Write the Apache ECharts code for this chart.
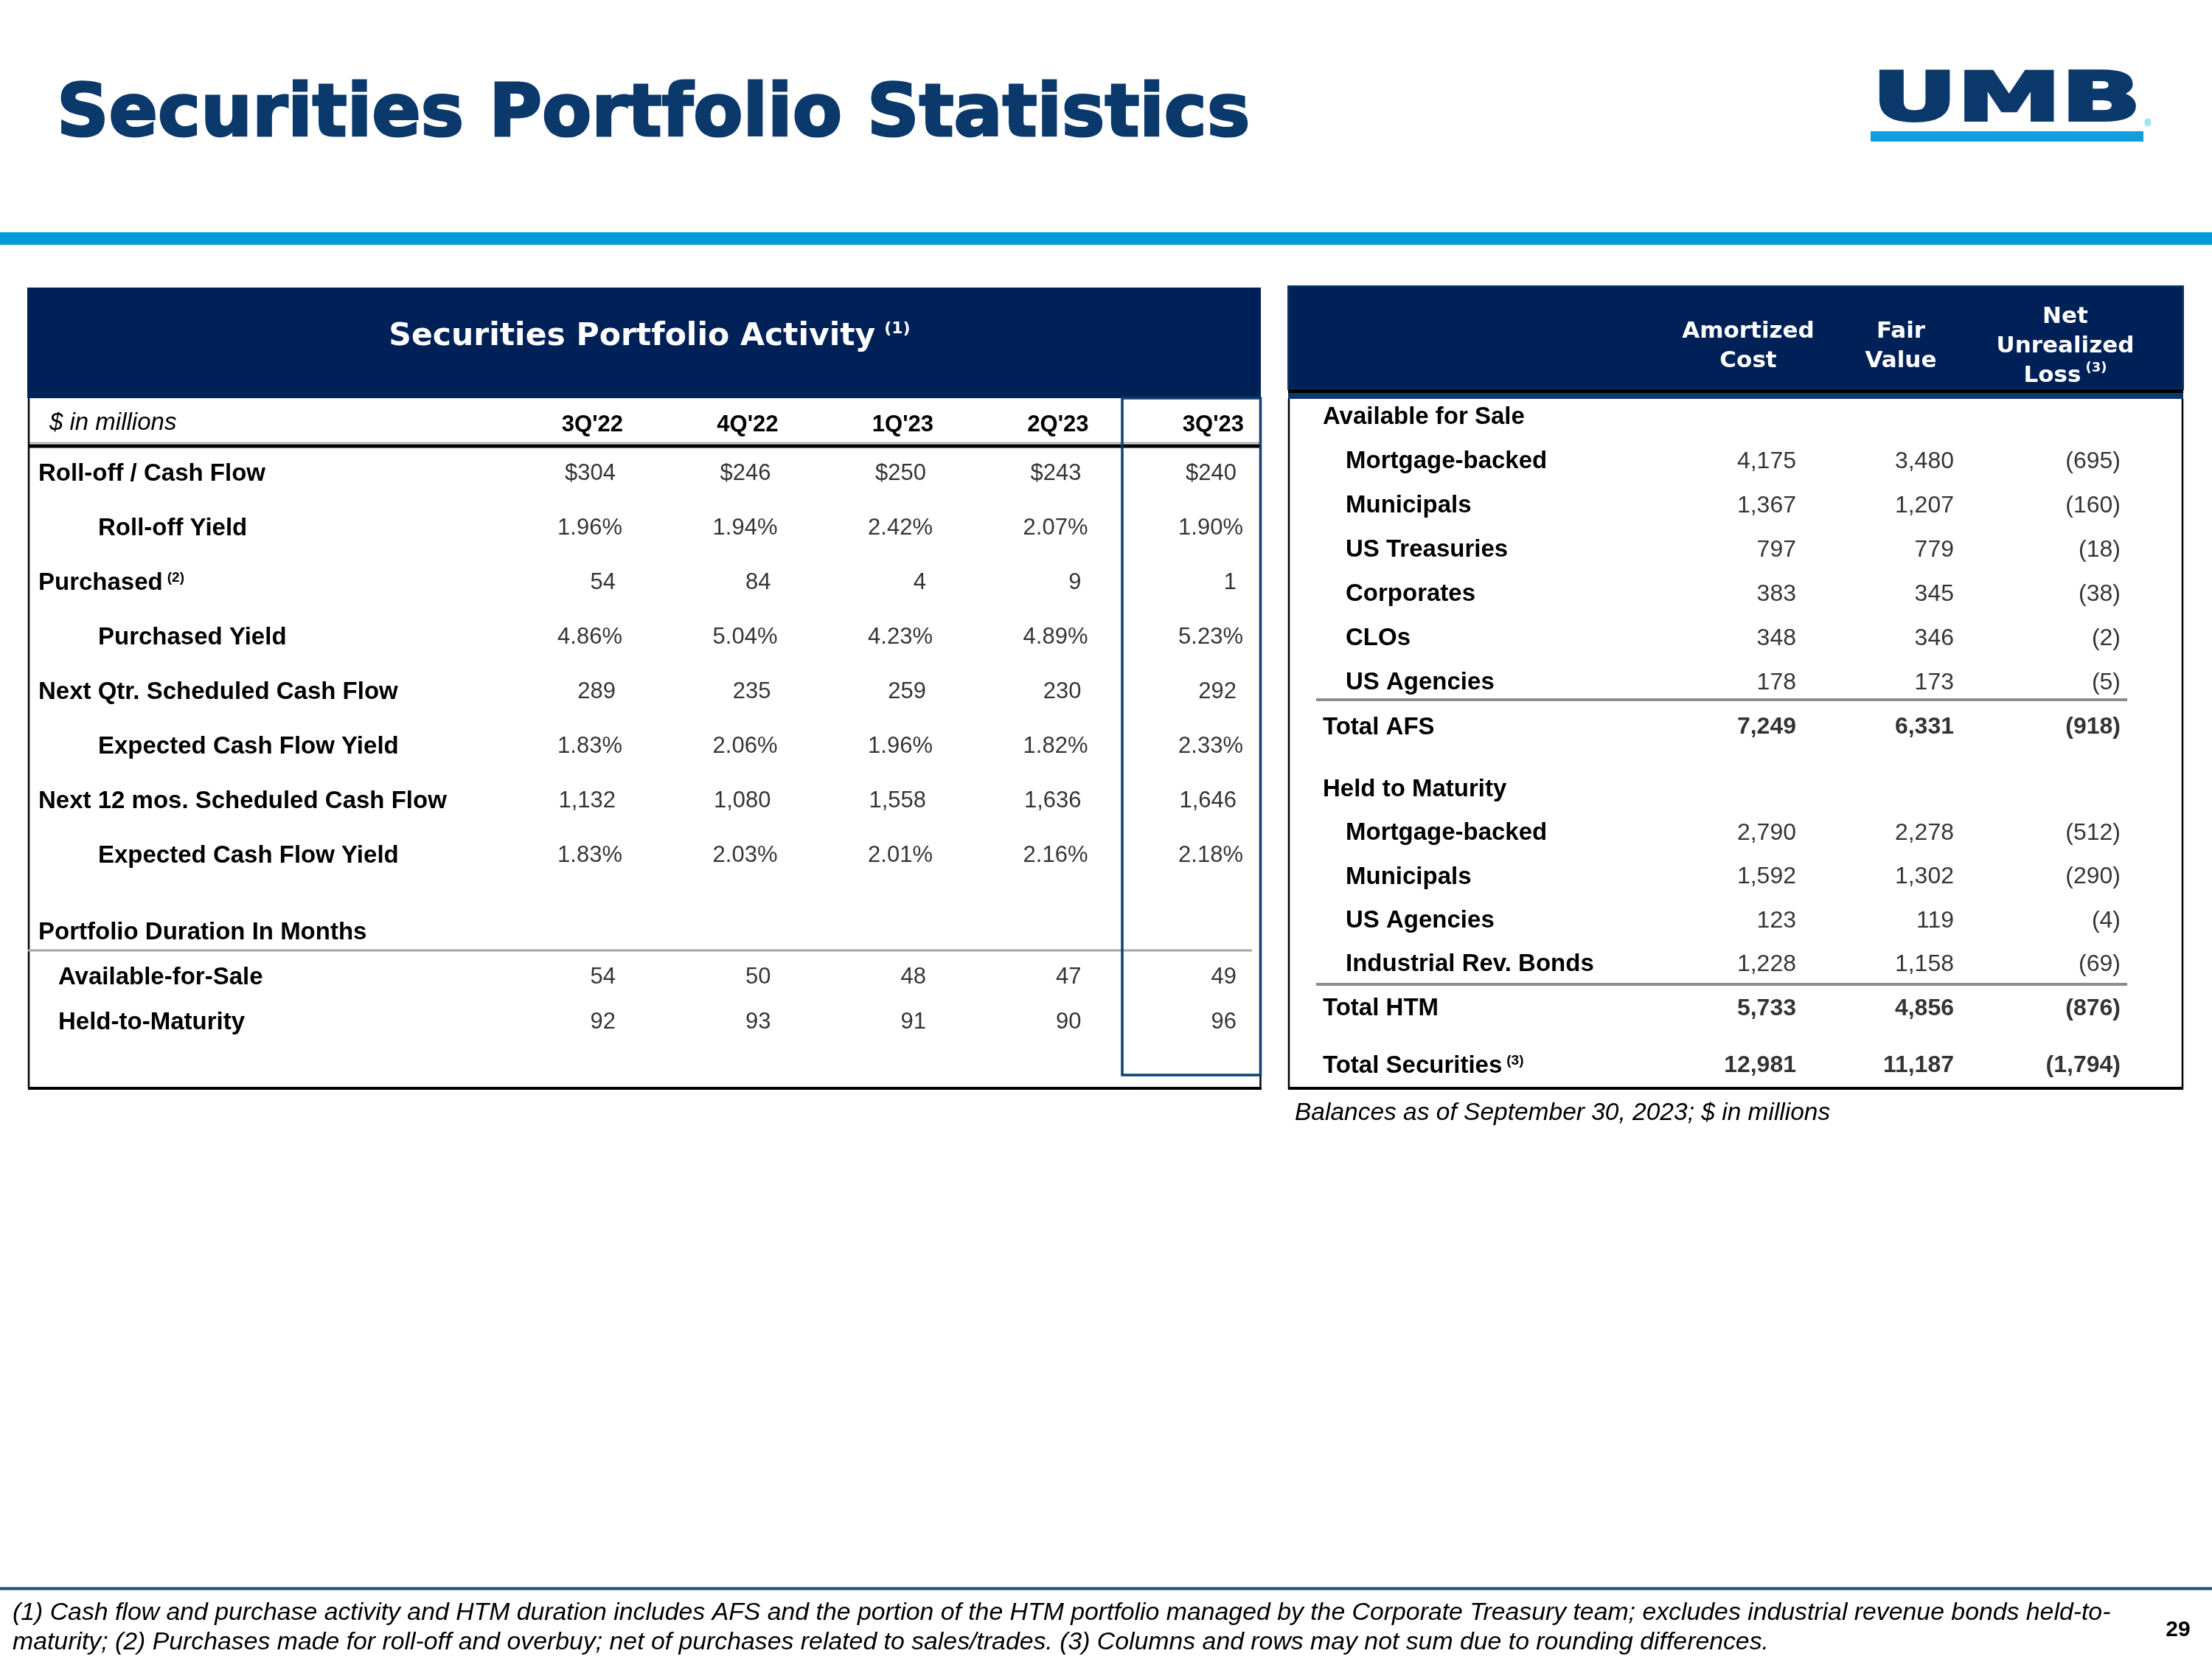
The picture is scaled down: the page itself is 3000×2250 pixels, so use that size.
<!DOCTYPE html>
<html>
<head>
<meta charset="utf-8">
<script src="https://cdn.jsdelivr.net/npm/echarts@6/dist/echarts.min.js"></script>
<style>html,body{margin:0;padding:0;background:#fff}#c{width:3000px;height:2250px}</style>
</head>
<body>
<div id="c"></div>
<script>
// ---------------- DATA ----------------
const quarters = ["3Q'22", "4Q'22", "1Q'23", "2Q'23", "3Q'23"];
const activityRows = ["Roll-off / Cash Flow", "Roll-off Yield", "Purchased", "Purchased Yield",
  "Next Qtr. Scheduled Cash Flow", "Expected Cash Flow Yield", "Next 12 mos. Scheduled Cash Flow", "Expected Cash Flow Yield"];
const rollOffCashFlow = [304, 246, 250, 243, 240];
const rollOffYield = [1.96, 1.94, 2.42, 2.07, 1.90];
const purchased = [54, 84, 4, 9, 1];
const purchasedYield = [4.86, 5.04, 4.23, 4.89, 5.23];
const nextQtrCashFlow = [289, 235, 259, 230, 292];
const nextQtrYield = [1.83, 2.06, 1.96, 1.82, 2.33];
const next12CashFlow = [1132, 1080, 1558, 1636, 1646];
const next12Yield = [1.83, 2.03, 2.01, 2.16, 2.18];
const durationRows = ["Portfolio Duration In Months", "Available-for-Sale", "Held-to-Maturity"];
const durationAFS = [54, 50, 48, 47, 49];
const durationHTM = [92, 93, 91, 90, 96];

const balanceColumns = ["Amortized\nCost", "Fair\nValue", "Net\nUnrealized\nLoss"];
const afsRows = ["Available for Sale", "Mortgage-backed", "Municipals", "US Treasuries", "Corporates", "CLOs", "US Agencies", "Total AFS"];
const afsAmortized = [4175, 1367, 797, 383, 348, 178];
const afsFair = [3480, 1207, 779, 345, 346, 173];
const afsLoss = [-695, -160, -18, -38, -2, -5];
const afsTotal = [7249, 6331, -918];
const htmRows = ["Held to Maturity", "Mortgage-backed", "Municipals", "US Agencies", "Industrial Rev. Bonds", "Total HTM"];
const htmAmortized = [2790, 1592, 123, 1228];
const htmFair = [2278, 1302, 119, 1158];
const htmLoss = [-512, -290, -4, -69];
const htmTotal = [5733, 4856, -876];
const totalRows = ["Total Securities"];
const totalSecurities = [12981, 11187, -1794];

const pageTitle = "Securities Portfolio Statistics";
const activityTitle = "Securities Portfolio Activity";
const footnote1 = "(1) Cash flow and purchase activity and HTM duration includes AFS and the portion of the HTM portfolio managed by the Corporate Treasury team; excludes industrial revenue bonds held-to-";
const footnote2 = "maturity; (2) Purchases made for roll-off and overbuy; net of purchases related to sales/trades. (3) Columns and rows may not sum due to rounding differences.";
const balanceNote = "Balances as of September 30, 2023; $ in millions";
const pageNumber = "29";

// ---------------- FORMATS / STYLES ----------------
const LAB = '"Liberation Sans", Arial, sans-serif';
const HEAD = '"DejaVu Sans", Verdana, sans-serif';
const NAVY = '#002157';
const fmtInt = v => Math.abs(v).toLocaleString('en-US');
const fmtUsd = v => '$' + fmtInt(v);
const fmtPct = v => v.toFixed(2) + '%';
const fmtLoss = v => v < 0 ? '(' + fmtInt(v) + ')' : fmtInt(v);

const activityValues = [rollOffCashFlow, rollOffYield, purchased, purchasedYield, nextQtrCashFlow, nextQtrYield, next12CashFlow, next12Yield];
const activityFormats = [fmtUsd, fmtPct, fmtInt, fmtPct, fmtInt, fmtPct, fmtInt, fmtPct];
const activityIndented = [false, true, false, true, false, true, false, true];
const activitySup = {2: '(2)'};

const labelRich = (indent) => ({
  n: {fontFamily: LAB, fontWeight: 'bold', fontSize: 33, color: '#000'},
  i: {fontFamily: LAB, fontWeight: 'bold', fontSize: 33, color: '#000', padding: [0, 0, 0, indent]},
  s: {fontFamily: LAB, fontWeight: 'bold', fontSize: 19, color: '#000', verticalAlign: 'top', padding: [0, 0, 0, 6]}
});
const rowFormatter = (names, indentFlags, sups) => (v, idx) => {
  let s = '{' + (indentFlags[idx] ? 'i' : 'n') + '|' + names[idx] + '}';
  if (sups && sups[idx]) s += '{s|' + sups[idx] + '}';
  return s;
};

const hiddenAxis = {axisLine: {show: false}, axisTick: {show: false}, splitLine: {show: false}};

// grids
const grids = [
  {left: 739.75, top: 605.5, width: 1052.5, height: 592},     // 0 activity
  {left: 739.75, top: 1234, width: 1052.5, height: 183},      // 1 duration
  {left: 2325, top: 535.5, width: 660, height: 481.1},        // 2 AFS
  {left: 2325, top: 1041, width: 660, height: 356.4},         // 3 HTM
  {left: 2325, top: 1415.5, width: 660, height: 60}           // 4 total
].map(g => Object.assign({outerBoundsMode: 'none', containLabel: false, show: false}, g));

const xAxes = [
  Object.assign({type: 'category', gridIndex: 0, position: 'top', data: quarters,
    axisLabel: {show: true, interval: 0, align: 'right', verticalAlign: 'middle', margin: 29.5,
      fontFamily: LAB, fontWeight: 'bold', fontSize: 31, color: '#000'}}, hiddenAxis),
  Object.assign({type: 'category', gridIndex: 1, data: quarters, axisLabel: {show: false}}, hiddenAxis),
  Object.assign({type: 'category', gridIndex: 2, data: balanceColumns, axisLabel: {show: false}}, hiddenAxis),
  Object.assign({type: 'category', gridIndex: 3, data: balanceColumns, axisLabel: {show: false}}, hiddenAxis),
  Object.assign({type: 'category', gridIndex: 4, data: balanceColumns, axisLabel: {show: false}}, hiddenAxis)
];

function yAxisFor(gi, names, indentFlags, sups, labelX, indent) {
  return Object.assign({
    type: 'category', gridIndex: gi, inverse: true,
    data: names.map((_, i) => 'r' + i),
    axisLabel: {show: true, interval: 0, align: 'left', verticalAlign: 'middle',
      margin: grids[gi].left - labelX,
      formatter: rowFormatter(names, indentFlags, sups), rich: labelRich(indent)}
  }, hiddenAxis);
}
const yAxes = [
  yAxisFor(0, activityRows, activityIndented, activitySup, 52, 81),
  yAxisFor(1, durationRows, [false, true, true], null, 52, 27),
  yAxisFor(2, afsRows, afsRows.map((_, i) => i > 0 && i < afsRows.length - 1), null, 1794, 31),
  yAxisFor(3, htmRows, htmRows.map((_, i) => i > 0 && i < htmRows.length - 1), null, 1794, 31),
  yAxisFor(4, totalRows, [false], {0: '(3)'}, 1794, 31)
];

function rowSeries(gi, rowIdx, texts, nudges, size, bold) {
  return {
    type: 'scatter', xAxisIndex: gi, yAxisIndex: gi, silent: true, animation: false,
    symbolSize: 1, itemStyle: {color: 'rgba(0,0,0,0)'},
    data: texts.map((t, c) => ({name: t, value: [c, rowIdx], label: {offset: [nudges[c], 0]}})),
    label: {show: true, position: 'inside', align: 'right', verticalAlign: 'middle', formatter: '{b}',
      fontFamily: LAB, fontSize: size, fontWeight: bold ? 'bold' : 'normal', color: '#000'},
    emphasis: {disabled: true}
  };
}

const series = [];
activityValues.forEach((vals, r) => {
  const pct = activityFormats[r] === fmtPct;
  series.push(rowSeries(0, r, vals.map(activityFormats[r]), quarters.map(() => pct ? -1 : -10), 31, false));
});
series.push(rowSeries(1, 1, durationAFS.map(fmtInt), quarters.map(() => -10), 31, false));
series.push(rowSeries(1, 2, durationHTM.map(fmtInt), quarters.map(() => -10), 31, false));

const balNudge = [1, -5, 1];
afsAmortized.forEach((_, i) => {
  series.push(rowSeries(2, i + 1, [fmtInt(afsAmortized[i]), fmtInt(afsFair[i]), fmtLoss(afsLoss[i])], balNudge, 32, false));
});
series.push(rowSeries(2, afsRows.length - 1, afsTotal.map(fmtLoss), balNudge, 32, true));
htmAmortized.forEach((_, i) => {
  series.push(rowSeries(3, i + 1, [fmtInt(htmAmortized[i]), fmtInt(htmFair[i]), fmtLoss(htmLoss[i])], balNudge, 32, false));
});
series.push(rowSeries(3, htmRows.length - 1, htmTotal.map(fmtLoss), balNudge, 32, true));
series.push(rowSeries(4, 0, totalSecurities.map(fmtLoss), balNudge, 32, true));

// ---------------- DECORATION ----------------
const rect = (x, y, w, h, fill, extra) => Object.assign({type: 'rect', silent: true, shape: {x, y, width: w, height: h}, style: {fill}}, extra || {});
const line = (x1, y1, x2, y2, stroke, lw) => ({type: 'line', silent: true, shape: {x1, y1, x2, y2}, style: {stroke, lineWidth: lw}});
const text = (x, y, t, font, fill, align, va, extraStyle, extra) => Object.assign({type: 'text', silent: true, x, y,
  style: Object.assign({text: t, font, fill, align: align || 'left', verticalAlign: va || 'middle'}, extraStyle || {})}, extra || {});

const headerCenters = [2371, 2578, 2801];
const graphics = [
  text(77, 159, pageTitle, 'bold 98px ' + HEAD, '#0b396b', 'left', 'middle', {stroke: '#0b396b', lineWidth: 3}),
  // logo
  text(2539, 139, 'UMB', 'bold 91px ' + HEAD, '#0b396b', 'left', 'middle', {stroke: '#0b396b', lineWidth: 4}, {scaleX: 1.56}),
  rect(2537, 178, 370, 14, '#0ea0dc'),
  text(2913, 168, '\u00AE', '12px ' + LAB, '#0ea0dc', 'center'),
  // blue band
  rect(0, 315, 3000, 17, '#009bdb'),

  // left table
  rect(37, 390, 1673, 150, NAVY),
  text(881, 457, '{t|' + activityTitle + '}{s|(1)}', '', '#fff', 'center', 'middle', {rich: {
    t: {fontFamily: HEAD, fontWeight: 'bold', fontSize: 42.5, fill: '#fff'},
    s: {fontFamily: HEAD, fontWeight: 'bold', fontSize: 22, fill: '#fff', verticalAlign: 'top', padding: [0, 0, 0, 12]}}}),
  line(39, 540, 39, 1477, '#000', 2.5),
  line(1709.5, 540, 1709.5, 1477, '#000', 2.5),
  line(38, 1476, 1711, 1476, '#000', 4),
  text(67, 574, '$ in millions', 'italic 33px ' + LAB, '#000'),
  line(40, 600.5, 1709, 600.5, '#9a9a9a', 1.5),
  rect(40, 602.5, 1669, 5, '#000'),
  line(38, 1289, 1698, 1289, '#a6a6a6', 3),
  rect(1522, 540, 187.5, 918, 'none', {style: {fill: 'none', stroke: '#0e3f70', lineWidth: 3.5}}),

  // right table
  rect(1747, 388, 1214, 140, NAVY, {style: {fill: NAVY, stroke: '#0d3a6e', lineWidth: 2}}),
  rect(1747, 528, 1214, 5, '#000'),
  rect(1747, 533, 1214, 8, '#0d3a6e'),
  line(1748, 541, 1748, 1477, '#000', 2.5),
  line(2960, 541, 2960, 1477, '#000', 2.5),
  line(1747, 1476, 2961, 1476, '#000', 4),
  line(1785, 949, 2885, 949, '#8c8c8c', 4),
  line(1785, 1335, 2885, 1335, '#8c8c8c', 4),
  text(1756, 1510, balanceNote, 'italic 33.5px ' + LAB, '#000'),

  // footer
  line(0, 2154.5, 3000, 2154.5, '#1f4e79', 4),
  text(17, 2188, footnote1, 'italic 33.8px ' + LAB, '#000'),
  text(17, 2228, footnote2, 'italic 33.8px ' + LAB, '#000'),
  text(2954, 2211, pageNumber, 'bold 30px ' + LAB, '#000', 'center')
];
balanceColumns.forEach((c, i) => {
  const isLast = i === balanceColumns.length - 1;
  const lines = c.split('\n').map((l, k, arr) => '{h|' + l + '}' + (isLast && k === arr.length - 1 ? '{s| (3)}' : '')).join('\n');
  graphics.push(text(headerCenters[i], 470, lines, '', '#fff', 'center', 'middle', {lineHeight: 40, rich: {
    h: {fontFamily: HEAD, fontWeight: 'bold', fontSize: 31, fill: '#fff', lineHeight: 40},
    s: {fontFamily: HEAD, fontWeight: 'bold', fontSize: 18, fill: '#fff', verticalAlign: 'top', lineHeight: 40}}}));
});

const chart = echarts.init(document.getElementById('c'), null, {renderer: 'canvas', width: 3000, height: 2250});
chart.setOption({
  animation: false,
  backgroundColor: '#fff',
  grid: grids,
  xAxis: xAxes,
  yAxis: yAxes,
  series: series,
  graphic: {elements: graphics}
});
</script>
</body>
</html>
